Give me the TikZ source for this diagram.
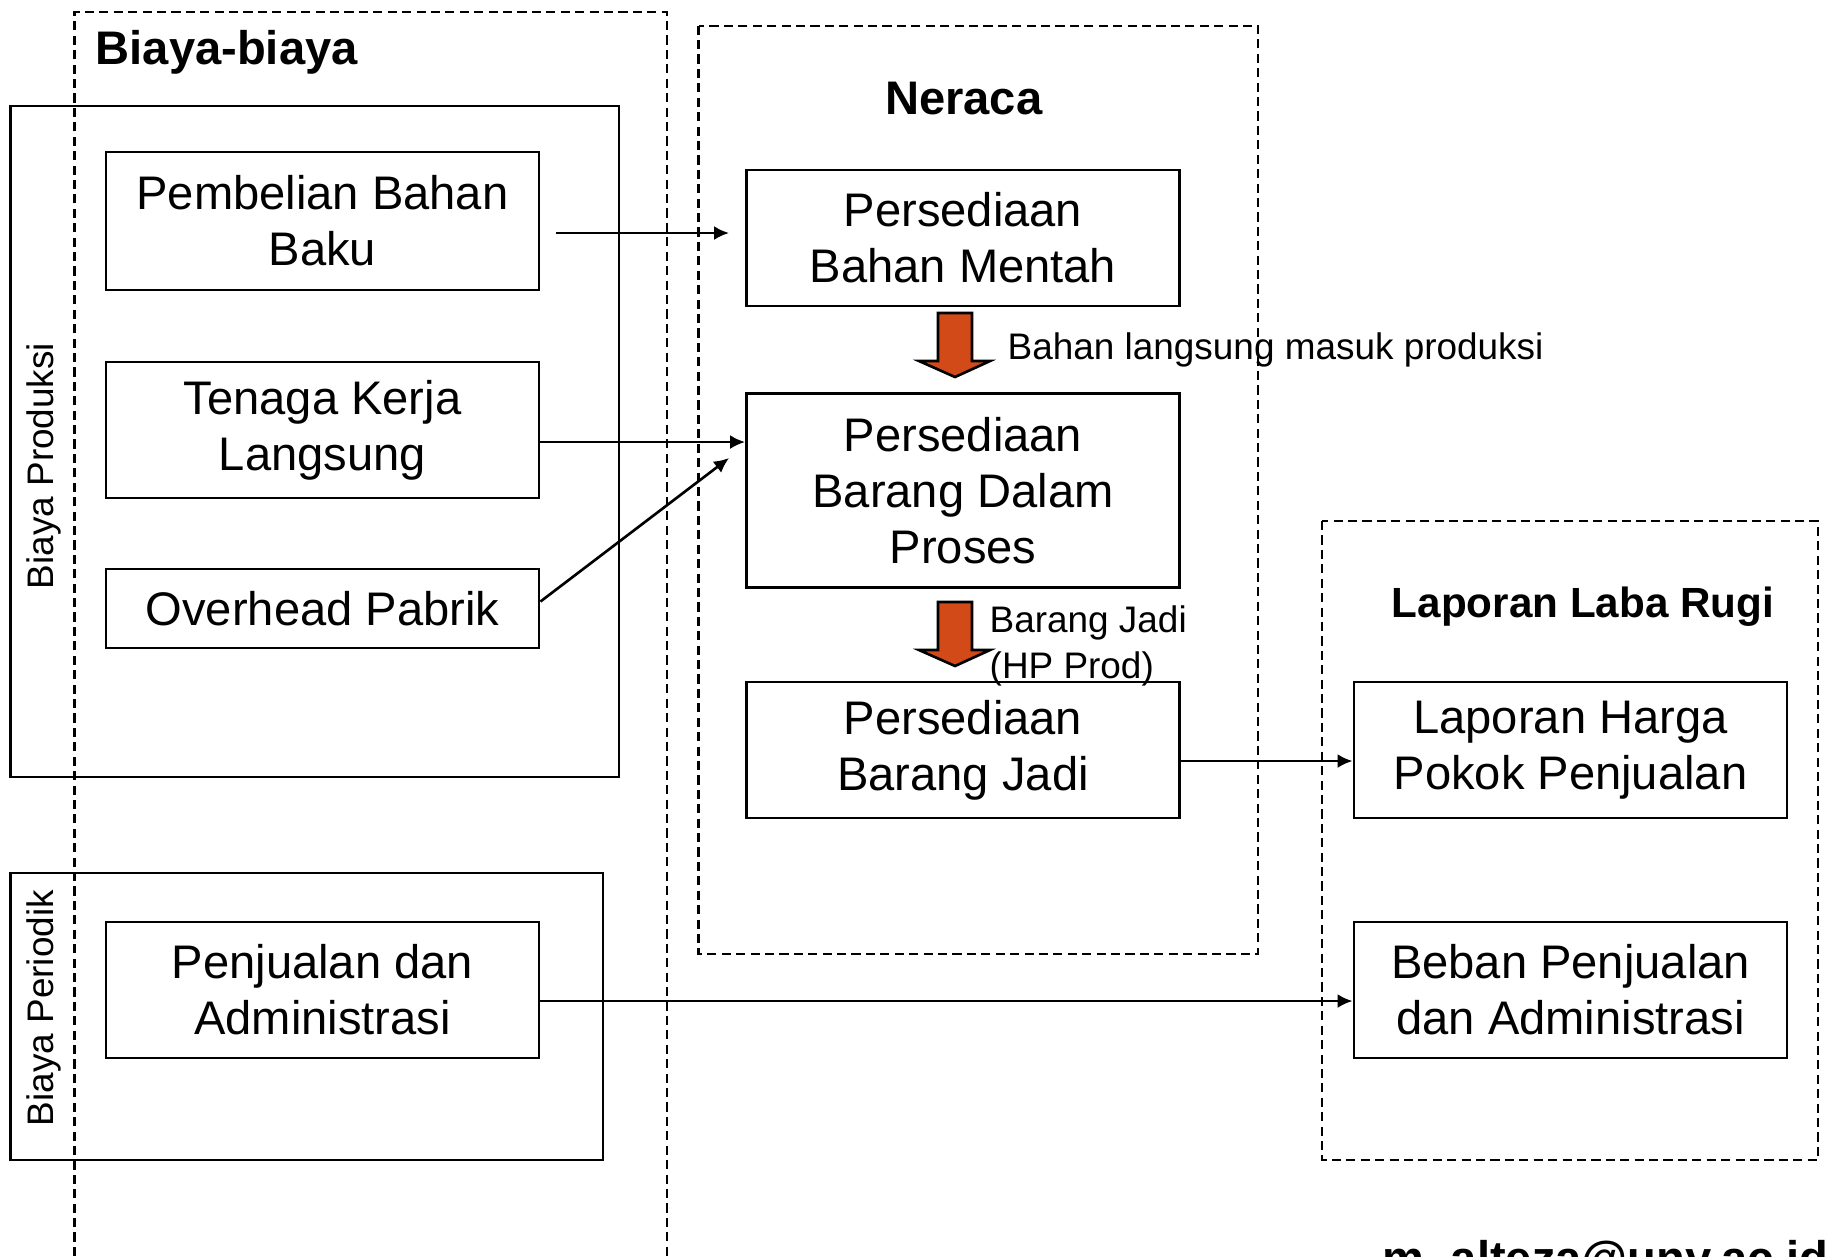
\documentclass[tikz,border=0pt]{standalone}
\usepackage{fontspec}
\setmainfont{Liberation Sans}
\usepackage{xcolor}
\usetikzlibrary{arrows.meta,calc}
\definecolor{oranye}{RGB}{210,74,24}
\tikzset{
	kotak/.style={draw, line width=0.75pt, minimum width=4.33cm, minimum height=1.36cm,
			inner sep=0pt, align=center, font=\fontsize{13.4}{15.9}\selectfont},
	wadah/.style={draw, line width=0.75pt},
	garis/.style={line width=0.6pt, dash pattern=on 2.6pt off 1.5pt},
	judul/.style={font=\bfseries\fontsize{13.4}{15.7}\selectfont, inner sep=0pt},
	ket/.style={font=\fontsize{10.5}{13}\selectfont, inner sep=0pt, align=left},
	panah/.style={line width=0.75pt, -{Latex[length=0.15cm,width=0.14cm]}},
	blok/.style={draw=black, line width=0.75pt, fill=oranye, line join=miter}
}

\begin{document}
\begin{tikzpicture}[x=0.01cm, y=-0.01cm]
		\useasboundingbox (0,0) rectangle (1825,1256);
		% kelompok dan wadah
		\draw[garis] (74.5,1256) |- (667,12) -- (667,1256);
		\draw[garis] (698.5,25.6) rectangle (1258,954);
		\draw[garis] (1322,521) rectangle (1818,1160);
		\draw[wadah] (10.5,106) rectangle (619,777);
		\draw[wadah] (10.5,873) rectangle (603,1160);
		\node[judul, anchor=west] (bb) at (95,52) {Biaya-biaya};
		\node[judul] (ner) at (963.7,99) {Neraca};
		\node[judul, font=\bfseries\fontsize{12}{14}\selectfont] (llr) at (1583,607) {Laporan Laba Rugi};
		\node[ket, rotate=90] (bpr) at (44,466) {Biaya Produksi};
		\node[ket, rotate=90] (bpe) at (44,1008) {Biaya Periodik};
		% kotak-kotak
		\node[kotak, minimum height=1.38cm] (pbb) at (322.5,221) {Pembelian Bahan\\Baku};
		\node[kotak] (tkl) at (322.5,430) {Tenaga Kerja\\Langsung};
		\node[kotak, minimum height=0.79cm] (ohp) at (322.5,608.5) {Overhead Pabrik};
		\node[kotak] (pda) at (322.5,990) {Penjualan dan\\Administrasi};
		\node[kotak] (pbm) at (963,238) {Persediaan\\Bahan Mentah};
		\node[kotak, minimum height=1.94cm] (pbdp) at (963,490.5) {Persediaan\\Barang Dalam\\Proses};
		\node[kotak] (pbj) at (963,750) {Persediaan\\Barang Jadi};
		\node[kotak] (lhpp) at (1570.5,750) {Laporan Harga\\Pokok Penjualan};
		\node[kotak] (bpa) at (1570.5,990) {Beban Penjualan\\dan Administrasi};
		% panah
		\draw[panah] ([xshift=0.16cm,yshift=-0.12cm]pbb.east) -- ([xshift=-0.16cm,yshift=-0.12cm]pbb.east -| pbm.west);
		\draw[panah] ([yshift=-0.12cm]tkl.east) -- ([yshift=-0.12cm]tkl.east -| pbdp.west);
		\draw[panah] ([yshift=0.07cm]ohp.east) -- ([xshift=-0.16cm,yshift=0.325cm]pbdp.west);
		\draw[panah] ([yshift=-0.11cm]pbj.east) -- ([yshift=-0.11cm]pbj.east -| lhpp.west);
		\draw[panah] ([yshift=-0.11cm]pda.east) -- ([yshift=-0.11cm]pda.east -| bpa.west);
		\foreach \y in {313,602}
			\draw[blok] (938,\y) -- (972,\y) -- (972,\y+48) -- (990,\y+48) -- (955,\y+64)
				-- (919,\y+48) -- (938,\y+48) -- cycle;
		\node[ket, anchor=west] (blm) at (1007,350) {Bahan langsung masuk produksi};
		\node[ket, anchor=west] (bj) at (989,646) {Barang Jadi\\(HP Prod)};
		\node[judul, anchor=base west] (email) at (1382,1274) {m\_alteza@uny.ac.id};
	\end{tikzpicture}
\end{document}
